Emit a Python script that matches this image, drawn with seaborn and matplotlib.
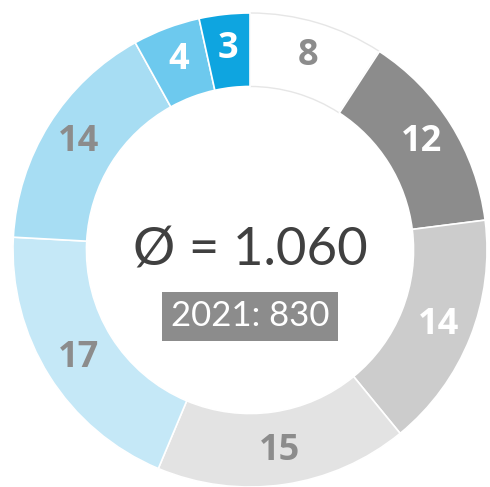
import numpy as np
import matplotlib.pyplot as plt
import seaborn as sns

values = [8, 12, 14, 15, 17, 14, 4, 3]
colors = ["#ffffff", "#8c8c8c", "#cccccc", "#e3e3e3", "#c5e8f7", "#a7ddf3", "#6dc9ee", "#0ea5e0"]
label_colors = ["#8c8c8c", "#ffffff", "#ffffff", "#8c8c8c", "#8c8c8c", "#8c8c8c", "#ffffff", "#ffffff"]
center_text = "Ø = 1.060"
sub_text = "2021: 830"

sns.set_theme(style="white")
plt.rcParams["font.family"] = ["Lato", "DejaVu Sans"]

fig = plt.figure(figsize=(4.9, 4.87), dpi=100)
ax = fig.add_axes([0, 0, 1, 1])

R = 1.0
w = 0.31
wedges, _ = ax.pie(values, colors=colors, startangle=90, counterclock=False, radius=R,
                   wedgeprops=dict(width=w, edgecolor="white", linewidth=1.2))
# light outline for the white segment
wedges[0].set_edgecolor("#e6e6e6")
wedges[0].set_linewidth(1.0)

# labels at middle of ring
for v, c, wd in zip(values, label_colors, wedges):
    mid = np.deg2rad((wd.theta1 + wd.theta2) / 2)
    r = R - w / 2 + 0.01
    ax.text(r * np.cos(mid), r * np.sin(mid), str(v), ha="center", va="center",
            color=c, fontsize=26, fontweight="bold", family=["Open Sans", "DejaVu Sans"])

ax.text(0, -0.005, center_text, ha="center", va="center", fontsize=38, color="#404040")
ax.text(0, -0.28, sub_text, ha="center", va="center", fontsize=25, color="white",
        bbox=dict(boxstyle="square,pad=0.24", fc="#8c8c8c", ec="none"))

ax.set_xlim(-250 / 237, 240 / 237)
ax.set_ylim(-1.0, 250 / 237)
ax.set_aspect("auto")
ax.axis("off")

fig.savefig("out.png", dpi=100)
